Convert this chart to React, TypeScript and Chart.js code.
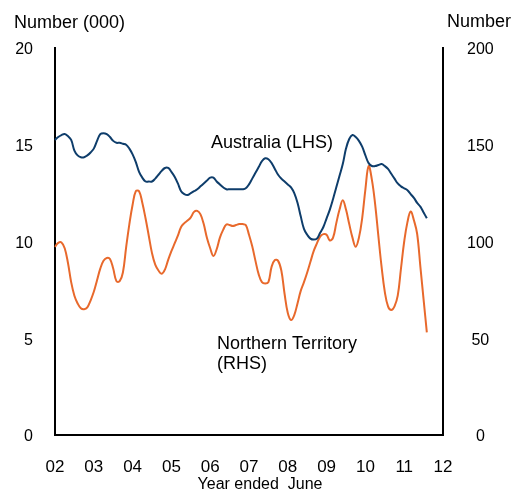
import React, { useEffect, useRef } from "react";
import { Chart, registerables } from "chart.js";

Chart.register(...registerables);

// Tick labels for the x axis (year ended June)
const yearTicks = ["02", "03", "04", "05", "06", "07", "08", "09", "10", "11", "12"];
const monthNames = ["Jun", "Jul", "Aug", "Sep", "Oct", "Nov", "Dec", "Jan", "Feb", "Mar", "Apr", "May"];

// Australia, number (000), LHS – monthly
const australia = [
  15.25, 15.4, 15.5, 15.55, 15.45, 15.25, 14.7, 14.45, 14.35, 14.35, 14.45, 14.6,
  14.8, 15.2, 15.55, 15.6, 15.55, 15.4, 15.2, 15.1, 15.1, 15.05, 15.0, 14.8,
  14.5, 14.1, 13.6, 13.3, 13.1, 13.1, 13.1, 13.25, 13.45, 13.65, 13.8, 13.8,
  13.6, 13.35, 13.0, 12.6, 12.45, 12.4, 12.5, 12.6, 12.7, 12.85, 13.0, 13.15,
  13.3, 13.3, 13.1, 12.95, 12.8, 12.7, 12.7, 12.7, 12.7, 12.7, 12.7, 12.75,
  12.95, 13.25, 13.55, 13.85, 14.15, 14.3, 14.25, 14.05, 13.75, 13.45, 13.25, 13.1,
  12.95, 12.8, 12.5, 12.0, 11.3, 10.65, 10.35, 10.15, 10.1, 10.15, 10.45, 10.75,
  11.2, 11.65, 12.2, 12.8, 13.4, 14.0, 14.8, 15.3, 15.5, 15.4, 15.2, 14.9,
  14.45, 14.05, 13.9, 13.9, 13.95, 14.0, 13.9, 13.75, 13.5, 13.25, 13.0, 12.85,
  12.75, 12.65, 12.45, 12.25, 12.0, 11.8, 11.5, 11.2,
];

// Northern Territory, number, RHS – monthly
const northernTerritory = [
  97.2, 99.3, 99.5, 96.5, 89, 79, 72, 68, 65.5, 65, 66, 69.5,
  74, 80, 86, 90, 91.5, 91, 86, 79.5, 79.5, 84, 97, 109,
  119, 126, 126, 120, 112, 103, 94, 88, 85, 83.3, 85.5, 90.5,
  95, 99, 103, 107.5, 109.5, 110.8, 112.5, 115.3, 115.8, 114, 109, 101.8,
  96.5, 92.5, 96, 102, 106, 108.8, 108.5, 108, 108.5, 109, 109, 108.5,
  103.5, 97.5, 90, 83, 79, 78.3, 79, 87, 90.4, 90, 85, 73,
  63, 59.4, 62, 68, 74.5, 79, 84, 89.5, 95, 99, 102.5, 103.8,
  103.5, 100.5, 102, 109.5, 116.5, 121.3, 116.5, 109, 102, 97.3, 102, 112,
  127, 139, 132, 119.5, 103, 87, 74, 66.5, 64.6, 66.5, 72, 86,
  100, 110, 115.5, 111, 104, 87, 70, 53,
];

const categories: string[] = [];
for (let y = 0; y < yearTicks.length - 1; y++) {
  for (let m = 0; m < 12; m++) categories.push(`${monthNames[m]}-${yearTicks[y]}`);
}
categories.push(`Jun-${yearTicks[yearTicks.length - 1]}`);

const FONT = '"Liberation Sans", Arial, sans-serif';

const textPlugin = {
  id: "customTexts",
  afterDraw(chart: any) {
    const ctx = chart.ctx as CanvasRenderingContext2D;
    ctx.save();
    ctx.fillStyle = "#000";
    ctx.textBaseline = "alphabetic";
    ctx.textAlign = "left";
    ctx.font = `18px ${FONT}`;
    ctx.fillText("Number (000)", 14, 28);
    ctx.fillText("Number", 447, 27);
    ctx.fillText("Australia (LHS)", 211, 148);
    ctx.fillText("Northern Territory", 217, 349);
    ctx.fillText("(RHS)", 217, 369);
    ctx.font = `16px ${FONT}`;
    ctx.textAlign = "center";
    ctx.fillText("Year ended  June", 260, 489);
    ctx.restore();
  },
};

export default function App() {
  const ref = useRef<HTMLCanvasElement | null>(null);
  useEffect(() => {
    if (!ref.current) return;
    const chart = new Chart(ref.current, {
      type: "line",
      data: {
        labels: categories,
        datasets: [
          {
            label: "Australia (LHS)",
            data: australia,
            yAxisID: "y",
            borderColor: "#0e3d6b",
            borderWidth: 2,
            pointRadius: 0,
            tension: 0.4,
            fill: false,
          },
          {
            label: "Northern Territory (RHS)",
            data: northernTerritory,
            yAxisID: "y2",
            borderColor: "#e8692c",
            borderWidth: 2,
            pointRadius: 0,
            tension: 0.4,
            fill: false,
          },
        ],
      },
      options: {
        responsive: false,
        animation: false,
        devicePixelRatio: 1,
        layout: { padding: { top: 48, left: 0, right: 0, bottom: 0 } },
        plugins: {
          legend: { display: false },
          tooltip: { enabled: false },
        },
        scales: {
          x: {
            type: "category",
            offset: false,
            grid: { display: false, drawTicks: false },
            border: { display: true, color: "#000", width: 2 },
            ticks: {
              autoSkip: false,
              maxRotation: 0,
              padding: 22,
              color: "#000",
              font: { family: FONT, size: 17 },
              callback: (_v: any, i: number) => (i % 12 === 0 ? yearTicks[i / 12] : null),
            },
            afterFit: (s: any) => {
              s.height = 58;
            },
          },
          y: {
            position: "left",
            min: 0,
            max: 20,
            grid: { display: false, drawTicks: false },
            border: { display: true, color: "#000", width: 2 },
            ticks: {
              stepSize: 5,
              padding: 22,
              labelOffset: 2,
              color: "#000",
              font: { family: FONT, size: 16 },
            },
            afterFit: (s: any) => {
              s.width = 55;
            },
          },
          y2: {
            position: "right",
            min: 0,
            max: 200,
            grid: { display: false, drawTicks: false },
            border: { display: true, color: "#000", width: 2 },
            ticks: {
              stepSize: 50,
              padding: 24,
              labelOffset: 2,
              crossAlign: "center",
              color: "#000",
              font: { family: FONT, size: 16 },
            },
            afterFit: (s: any) => {
              s.width = 83;
            },
          },
        },
      },
      plugins: [textPlugin],
    });
    return () => chart.destroy();
  }, []);
  return (
    <div style={{ position: "fixed", left: 0, top: 0, width: 526, height: 493, background: "#fff" }}>
      <canvas ref={ref} width={526} height={493} style={{ width: 526, height: 493, display: "block" }} />
    </div>
  );
}
